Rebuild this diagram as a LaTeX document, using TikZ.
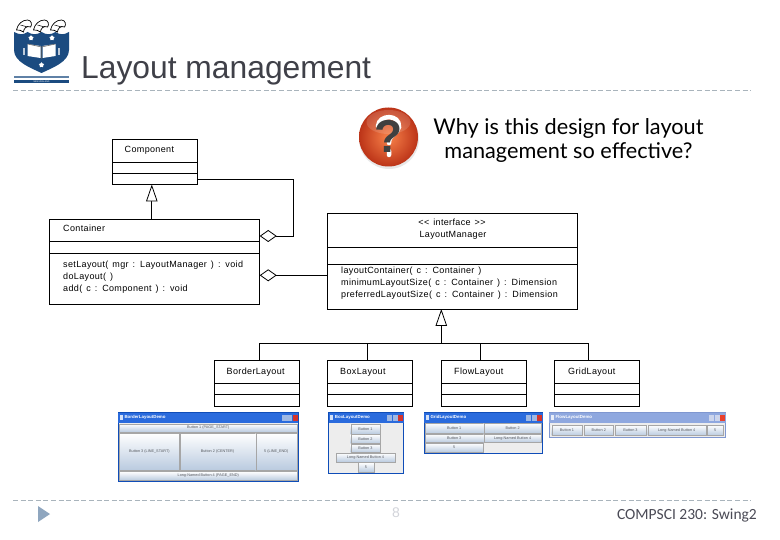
\documentclass[tikz,border=0pt]{standalone}
\usepackage{fontspec}
\setmainfont{Liberation Sans}
\newfontfamily\umlf[LetterSpace=4,WordSpace=1.4]{Liberation Sans}
\newfontfamily\qf{Lato}
\newfontfamily\footf{Carlito}
\usetikzlibrary{arrows.meta,shapes.geometric}
\definecolor{rulecol}{HTML}{A9B4BC}
\definecolor{titlecol}{HTML}{3F4048}
\definecolor{footcol}{HTML}{4A4A55}
\definecolor{pagecol}{HTML}{D2D4DA}
\definecolor{bulletcol}{HTML}{8FA6BF}
\definecolor{shieldcol}{HTML}{1B4B80}
\definecolor{winblue}{HTML}{0F4DB8}
\definecolor{winbar}{HTML}{2A6BDD}
\definecolor{fadeblue}{HTML}{7F97D0}
\definecolor{fadebar}{HTML}{8FA8DF}
\definecolor{clientcol}{HTML}{EDEDED}
\definecolor{btnlow}{HTML}{B9CADF}
\definecolor{btntext}{HTML}{55585E}
\definecolor{redmid}{HTML}{E8552A}
\definecolor{reddark}{HTML}{BC3418}
\definecolor{redlight}{HTML}{F8824A}
\newcounter{autoid}
\tikzset{
  cls/.style={draw=black,line width=0.9pt,fill=white,inner sep=0pt,outer sep=0pt},
  conn/.style={draw=black,line width=0.9pt},
  gen/.style={conn,-{Triangle[open,fill=white,length=17pt,width=11.5pt,line width=0.8pt]}},
  agg/.style={conn,-{Diamond[open,fill=white,length=17pt,width=12pt,line width=0.8pt]}},
  umltext/.style={font=\umlf\fontsize{9}{12}\selectfont,inner sep=0pt,align=left,text=black},
  rulestyle/.style={draw=rulecol,line width=0.8pt,dash pattern=on 5pt off 2.6pt},
  wintitle/.style={font=\bfseries\fontsize{4.4}{5}\selectfont,inner sep=0pt,anchor=west},
  btnlabel/.style={font=\fontsize{3.8}{4}\selectfont,inner sep=0pt,text=btntext},
  btnstyle/.style={draw=gray!70,line width=0.3pt,top color=white,bottom color=btnlow},
}
% name, x1, y1, x2, y2, divider y, divider y
\newcommand\umlclass[7]{%
  \pgfmathsetmacro\cw{#4-#2}\pgfmathsetmacro\ch{#5-#3}%
  \pgfmathsetmacro\cx{(#4+#2)/2}\pgfmathsetmacro\cy{(#5+#3)/2}%
  \node[cls,minimum width=\cw pt,minimum height=\ch pt] (#1) at (\cx,\cy) {};
  \draw[conn] (#1.west |- 0,#6) -- (#1.east |- 0,#6);
  \draw[conn] (#1.west |- 0,#7) -- (#1.east |- 0,#7);
}
% frame colour, bar colour, name, x1, y1, x2, y2, title, title colour
\newcommand\winframe[9]{%
  \pgfmathsetmacro\cw{#6-#4}\pgfmathsetmacro\ch{#7-#5}%
  \pgfmathsetmacro\cx{(#6+#4)/2}\pgfmathsetmacro\cy{(#7+#5)/2}%
  \node[draw=#1,line width=1pt,fill=clientcol,inner sep=0pt,outer sep=0pt,minimum width=\cw pt,minimum height=\ch pt] (#3) at (\cx,\cy) {};
  \fill[#2] (#4,#5) rectangle (#6,#5+10);
  \node[wintitle,text=#9] (#3t) at (#4+6,#5+5) {#8};
  \fill[white,opacity=.8] (#4+1.5,#5+2.5) rectangle (#4+4.5,#5+7.5);
  \fill[#1!40!white] (#6-16.5,#5+2) rectangle (#6-11.5,#5+8);
  \fill[#1!40!white] (#6-11,#5+2) rectangle (#6-6,#5+8);
  \fill[red!70!orange,opacity=.8] (#6-5.5,#5+2) rectangle (#6-.5,#5+8);
}
\newcommand\winbtn[5]{%
  \stepcounter{autoid}%
  \path[btnstyle] (#1,#2) rectangle (#3,#4);
  \node[btnlabel] (btn\theautoid) at ({(#1+#3)/2},{(#2+#4)/2}) {#5};
}
\begin{document}
\begin{tikzpicture}[x=1pt,y=-1pt]
\useasboundingbox (0,0) rectangle (780,540);
\fill[white] (0,0) rectangle (780,540);

% ---- slide furniture
\coordinate (ruleTopL) at (13,90);  \coordinate (ruleTopR) at (751,90);
\coordinate (ruleBotL) at (13,500); \coordinate (ruleBotR) at (751,500);
\draw[rulestyle] (ruleTopL) -- (ruleTopR);
\draw[rulestyle] (ruleBotL) -- (ruleBotR);
\node[font=\fontsize{31.8}{34}\selectfont,text=titlecol,anchor=base west,inner sep=0pt] (title) at (81,79) {Layout management};
\node[font=\footf\fontsize{15.5}{18}\selectfont,text=footcol,anchor=base east,inner sep=0pt] (foot) at (757,519) {COMPSCI 230: Swing2};
\node[font=\fontsize{14}{16}\selectfont,text=pagecol,inner sep=0pt] (page) at (396,513) {8};
\fill[bulletcol] (38,506) -- (50,514) -- (38,522) -- cycle;

% ---- logo
\fill[shieldcol] (14,32) .. controls (20,35) and (23,35) .. (27.5,32)
  .. controls (32,35) and (37,35) .. (41.5,32)
  .. controls (46,35) and (51,35) .. (55.5,32)
  .. controls (60,35) and (64,35) .. (69,32)
  -- (69,50) .. controls (69,62) and (52,68) .. (41.5,73)
  .. controls (31,68) and (14,62) .. (14,50) -- cycle;
\foreach \hx in {15.5,32.5,49.5}{
  \draw[black,fill=white,line width=.7pt] (\hx+1,30) .. controls (\hx+2,24) and (\hx+7,20) .. (\hx+12,20)
     .. controls (\hx+16,20) and (\hx+17,25) .. (\hx+15,27)
     .. controls (\hx+11,25) and (\hx+8,29) .. (\hx+8,32)
     .. controls (\hx+6,30) and (\hx+3,30) .. (\hx+1,30) -- cycle;
  \draw[black,line width=.5pt] (\hx+5,25) -- (\hx+12,27);
}
\fill[white] (27.5,44) -- (40.5,46) -- (40.5,58) -- (27.5,56) -- cycle;
\fill[white] (55.5,44) -- (42.5,46) -- (42.5,58) -- (55.5,56) -- cycle;
\draw[gray!70!black,line width=.5pt] (27.5,44) -- (41.5,47) -- (55.5,44) (41.5,47) -- (41.5,59);
\draw[white!70!shieldcol,line width=1.5pt] (24,48) -- (24,55) (59,48) -- (59,55);
\foreach \sx/\sy in {31/38,52/38,41.5/65}
  \node[star,star points=5,fill=white,inner sep=0pt,minimum size=5.5pt] (logostar\sx) at (\sx,\sy) {};
\fill[shieldcol] (14,80) rectangle (69,83);
\fill[shieldcol!70!white] (14,76.5) rectangle (69,78.5);
\node[font=\fontsize{2.2}{2.4}\selectfont,text=white,inner sep=0pt] (uni) at (41.5,81.5) {NEW ZEALAND};

% ---- question
\fill[gray!50,opacity=.35] (389,139) circle[radius=30];
\shade[inner color=redlight,outer color=reddark] (388.5,137) circle[radius=29.5];
\fill[white,opacity=.14] (388.5,122) ellipse[x radius=22,y radius=12];
\draw[white,line width=4.5pt,line cap=round] (378,126) .. controls (379,114) and (400,114) .. (399,127) .. controls (398,134) and (389,134) .. (389,143) (389,151) -- (389,155);
\node[font=\bfseries\fontsize{46}{46}\selectfont,text=black!75,inner sep=0pt] (qmark) at (389,136) {?};
\node[font=\qf\fontsize{21.7}{24}\selectfont,align=center,inner sep=0pt] (why) at (568.5,140.5) {Why is this design for layout\\management so effective?};

% ---- classes
\umlclass{comp}{112.7}{139.5}{197}{184.5}{162}{173}
\umlclass{cont}{49.5}{219.5}{259.7}{304.5}{241}{253}
\umlclass{lm}{327.5}{213}{577.7}{309}{247}{264}
\umlclass{border}{214.7}{360}{299}{406}{383.7}{394}
\umlclass{boxl}{327.7}{360}{412.7}{406}{383.7}{394}
\umlclass{flow}{441.3}{360}{526.5}{406}{383.7}{394}
\umlclass{grid}{554.5}{360}{639.5}{406}{383.7}{394}

\node[umltext,anchor=base west] (tcomp) at (124.5,153) {Component};
\node[umltext,anchor=base west] (tcont) at (63,232) {Container};
\node[umltext,anchor=base west] (tcontm1) at (63,268) {setLayout( mgr : LayoutManager ) : void};
\node[umltext,anchor=base west] (tcontm2) at (63,280) {doLayout( )};
\node[umltext,anchor=base west] (tcontm3) at (63,292) {add( c : Component ) : void};
\node[umltext,anchor=base] (tlm1) at (452,226) {<{}< interface >{}>};
\node[umltext,anchor=base] (tlm2) at (453,238) {LayoutManager};
\node[umltext,anchor=base west] (tlmm1) at (341,274) {layoutContainer( c : Container )};
\node[umltext,anchor=base west] (tlmm2) at (341,286) {minimumLayoutSize( c : Container ) : Dimension};
\node[umltext,anchor=base west] (tlmm3) at (341,298) {preferredLayoutSize( c : Container ) : Dimension};
\node[umltext,anchor=base west] (tb) at (226.5,374) {BorderLayout};
\node[umltext,anchor=base west] (tx) at (340,374) {BoxLayout};
\node[umltext,anchor=base west] (tf) at (454,374) {FlowLayout};
\node[umltext,anchor=base west] (tg) at (568,374) {GridLayout};

% ---- connectors
\coordinate (contStem) at (151.8,219.5);
\coordinate (compTip) at (151.8,184.5);
\draw[gen] (contStem) -- (compTip);
\coordinate (aggTurnTop) at (293.3,179);
\coordinate (aggTurnLow) at (293.3,236);
\coordinate (aggEnd) at (259.7,236);
\draw[agg] (comp.east |- aggTurnTop) -- (aggTurnTop) -- (aggTurnLow) -- (aggEnd);
\coordinate (agg2) at (259.7,275.3);
\draw[agg] (lm.west |- agg2) -- (agg2);

\coordinate (stem) at (441.3,343.3);
\draw[gen] (stem) -- (stem |- lm.south);
\coordinate (d1) at (259.5,343.3);
\coordinate (d2) at (367.3,343.3);
\coordinate (d3) at (480.3,343.3);
\coordinate (d4) at (588,343.3);
\draw[conn] (d1) -- (d4);
\draw[conn] (d1) -- (d1 |- border.north);
\draw[conn] (d2) -- (d2 |- boxl.north);
\draw[conn] (d3) -- (d3 |- flow.north);
\draw[conn] (d4) -- (d4 |- grid.north);

% ---- screenshots
\winframe{winblue}{winbar}{wb}{118.3}{412.7}{298.3}{481.7}{BorderLayoutDemo}{white}
\winbtn{119.5}{424}{297}{432}{Button 1 (PAGE\_START)}
\winbtn{119.5}{433}{179.3}{470.5}{Button 3 (LINE\_START)}
\winbtn{180}{433}{255}{470.5}{Button 2 (CENTER)}
\winbtn{255.7}{433}{297}{470.5}{5 (LINE\_END)}
\winbtn{119.5}{471.5}{297}{480.5}{Long-Named Button 4 (PAGE\_END)}

\winframe{winblue}{winbar}{wx}{328.7}{412.7}{403.7}{473}{BoxLayoutDemo}{white}
\winbtn{350.7}{424}{380}{434}{Button 1}
\winbtn{350.7}{434.5}{380}{443.5}{Button 2}
\winbtn{350.7}{444}{380}{452.5}{Button 3}
\winbtn{336}{453}{395}{462}{Long-Named Button 4}
\winbtn{358}{462.5}{374}{472}{5}

\winframe{winblue}{winbar}{wg}{424.3}{412.7}{542.7}{453.3}{GridLayoutDemo}{white}
\winbtn{425.5}{423}{483}{433.5}{Button 1}
\winbtn{483.7}{423}{541.5}{433.5}{Button 2}
\winbtn{425.5}{434}{483}{442.5}{Button 3}
\winbtn{483.7}{434}{541.5}{442.5}{Long-Named Button 4}
\winbtn{425.5}{443}{483}{452.3}{5}

\winframe{fadeblue}{fadebar}{wf}{549.3}{412.7}{725.7}{437.3}{FlowLayoutDemo}{white}
\winbtn{551.7}{425}{582.3}{435.5}{Button 1}
\winbtn{584.3}{425}{613.3}{435.5}{Button 2}
\winbtn{615}{425}{646}{435.5}{Button 3}
\winbtn{647.7}{425}{705.7}{435.5}{Long-Named Button 4}
\winbtn{707.3}{425}{723.3}{435.5}{5}
\end{tikzpicture}
\end{document}
